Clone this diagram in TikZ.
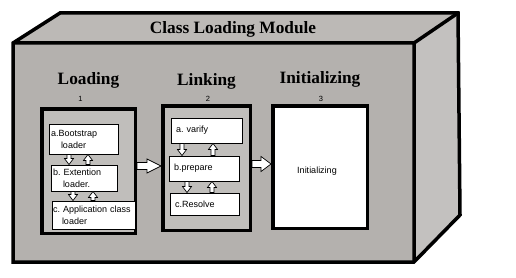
\documentclass[tikz,border=0pt]{standalone}
\usepackage{fontspec}
\setmainfont{Liberation Serif}
\setsansfont{Liberation Sans}
\frenchspacing
\usetikzlibrary{calc, positioning}
\definecolor{frontgray}{HTML}{B4B1AE}
\definecolor{topgray}{HTML}{BCB9B6}
\definecolor{sidegray}{HTML}{C3C1BF}
\definecolor{stagegray}{HTML}{C0BEBB}

% hollow block arrow: from, to, shaft half width, head half width, head length
\newcommand{\blockarrow}[5]{%
  \coordinate (ba) at (#1);
  \coordinate (bz) at (#2);
  \coordinate (bh) at ($(bz)!#5!(ba)$);
  \draw[fill=white, line width=0.7pt]
    ($(ba)!#3!90:(bz)$) -- ($(bh)!#3!90:(bz)$) -- ($(bh)!#4!90:(bz)$) -- (bz)
    -- ($(bh)!#4!-90:(bz)$) -- ($(bh)!#3!-90:(bz)$) -- ($(ba)!#3!-90:(bz)$) -- cycle;
}
% down and up arrow between two stacked boxes: upper, lower, x down, x up
\newcommand{\arrowpair}[4]{%
  \blockarrow{#3,0 |- #1.south}{#3,0 |- #2.north}{2pt}{4.5pt}{6pt}
  \blockarrow{#4,0 |- #2.north}{#4,0 |- #1.south}{2pt}{4.5pt}{6pt}
}

\begin{document}
\begin{tikzpicture}[x=1pt, y=-1pt,
  stage/.style={draw, line width=3.5pt, fill=stagegray, inner sep=0pt},
  innerbox/.style={draw, line width=0.9pt, fill=white, align=left,
    font=\sffamily\fontsize{9}{12}\selectfont, inner xsep=2pt, inner ysep=0pt},
  heading/.style={font=\fontsize{17.3}{20}\selectfont\bfseries, inner sep=0pt},
  stagenum/.style={font=\sffamily\fontsize{7.5}{8}\selectfont, inner sep=0pt}]

\useasboundingbox (0,0) rectangle (516,278);
\fill[white] (0,0) rectangle (516,278);

% Box faces
\coordinate (f1) at (13,43);   % front top-left
\coordinate (f2) at (414,43);  % front top-right
\coordinate (f3) at (414,262); % front bottom-right
\coordinate (f4) at (13,262);  % front bottom-left
\coordinate (b1) at (60,13);   % back top-left
\coordinate (b2) at (458,13);  % back top-right
\coordinate (b3) at (460,215); % back bottom-right

\fill[topgray] (f1) -- (b1) -- (b2) -- (f2) -- cycle;
\fill[sidegray] (f2) -- (b2) -- (b3) -- (f3) -- cycle;
\fill[frontgray] (f1) -- (f2) -- (f3) -- (f4) -- cycle;
\draw[line width=3.5pt] (f1) -- (b1) -- (b2) -- (b3) -- (f3) -- (f4) -- cycle;
\draw[line width=3.5pt] (f1) -- (f2) -- (f3) (f2) -- (b2);

% Title
\node[heading] (title) at (233,29) {Class Loading Module};

% === Stages ===
\node[stage, minimum width=93.5pt, minimum height=124.5pt] (loading) at (88.5,171) {};
\node[stage, minimum width=87.5pt, minimum height=124.5pt] (linking) at (206.5,168) {};
\node[stage, fill=white, minimum width=94.5pt, minimum height=122.5pt] (init) at (320,167) {};

% Stage numbers and headings
\node[stagenum, above=5pt of loading, xshift=-8pt] (num1) {1};
\node[stagenum, above=2.5pt of linking, xshift=1.5pt] (num2) {2};
\node[stagenum, above=2.5pt of init, xshift=1pt] (num3) {3};
\node[heading, above=18pt of loading] (loadhead) {Loading};
\node[heading, above=14pt of linking] (linkhead) {Linking};
\node[heading, above=16pt of init] (inithead) {Initializing};

% --- Loading: the three loaders ---
\node[innerbox, text width=65pt, minimum height=30pt] (boot) at (83.5,139)
  {a.Bootstrap\\\hspace*{10pt}loader};
\node[innerbox, text width=62pt, minimum height=26pt] (ext) at (84,178)
  {b. Extention\\\hspace*{10pt}loader.};
\node[innerbox, inner xsep=1pt, text width=81pt, minimum height=28pt] (app) at (93.5,215)
  {\mbox{c. Application class}\\\hspace*{9pt}loader};

% --- Linking: verify, prepare, resolve ---
\node[innerbox, inner xsep=5pt, text width=61pt, minimum height=25pt] (verify) at (206.5,130.5)
  {a. varify};
\node[innerbox, inner xsep=5pt, text width=60pt, minimum height=25pt] (prepare) at (204,168.5)
  {b.prepare};
\node[innerbox, inner xsep=5pt, text width=59pt, minimum height=22pt] (resolve) at (204.5,204)
  {c.Resolve};

% --- Initializing ---
\node[font=\sffamily\fontsize{9}{11}\selectfont] (inittext) at (317,171) {Initializing};

% Arrows inside the stages
\arrowpair{boot}{ext}{69}{88}
\arrowpair{ext}{app}{73}{93}
\arrowpair{verify}{prepare}{182}{213}
\arrowpair{prepare}{resolve}{187}{212}

% Arrows between the stages
\blockarrow{loading.east |- 0,166}{linking.west |- 0,166}{3.5pt}{7pt}{14pt}
\blockarrow{linking.east |- 0,164}{init.west |- 0,164}{3.5pt}{7.5pt}{10pt}

\end{tikzpicture}
\end{document}
